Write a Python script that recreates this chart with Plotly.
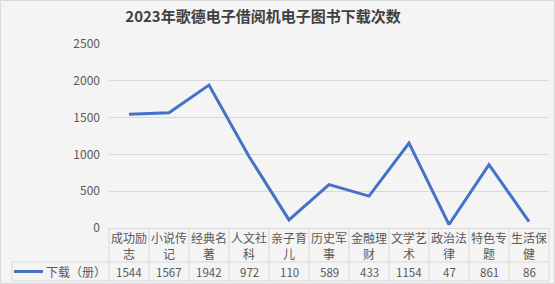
import plotly.graph_objects as go

categories = ["成功励志", "小说传记", "经典名著", "人文社科", "亲子育儿", "历史军事",
              "金融理财", "文学艺术", "政治法律", "特色专题", "生活保健"]
cat_labels = ["成功励<br>志", "小说传<br>记", "经典名<br>著", "人文社<br>科", "亲子育<br>儿", "历史军<br>事",
              "金融理<br>财", "文学艺<br>术", "政治法<br>律", "特色专<br>题", "生活保<br>健"]
values = [1544, 1567, 1942, 972, 110, 589, 433, 1154, 47, 861, 86]
series_name = "下载（册）"
y_ticks = [0, 500, 1000, 1500, 2000, 2500]
title = "2023年歌德电子借阅机电子图书下载次数"

W, H = 555, 284
L, R, T, B = 109, 549, 44, 228
pw, ph = R - L, B - T

def px(x):
    return (x - L) / pw

def py(y):
    return (B - y) / ph

FONT = "Noto Sans CJK SC"
LINE = "#4472C4"
GRID = "#d9d9d9"
TXT = "#595959"

fig = go.Figure()
idx = list(range(len(categories)))
fig.add_trace(go.Scatter(x=idx, y=values, mode="lines",
                         line=dict(color=LINE, width=3), name=series_name,
                         hoverinfo="x+y"))

shapes = []
annotations = []
# outer border
shapes.append(dict(type="rect", xref="paper", yref="paper", x0=px(0.5), x1=px(W - 0.5),
                   y0=py(H - 0.5), y1=py(0.5), line=dict(color=GRID, width=1)))
n = len(categories)
colw = pw / n
row1_bottom = 262
table_bottom = 281
# vertical lines in table
for i in range(n + 1):
    xp = L + i * colw
    shapes.append(dict(type="line", xref="paper", yref="paper", x0=px(xp), x1=px(xp),
                       y0=py(B), y1=py(table_bottom), line=dict(color=GRID, width=1)))
# horizontal lines
shapes.append(dict(type="line", xref="paper", yref="paper", x0=px(12), x1=px(R),
                   y0=py(row1_bottom), y1=py(row1_bottom), line=dict(color=GRID, width=1)))
shapes.append(dict(type="line", xref="paper", yref="paper", x0=px(12), x1=px(R),
                   y0=py(table_bottom), y1=py(table_bottom), line=dict(color=GRID, width=1)))
shapes.append(dict(type="line", xref="paper", yref="paper", x0=px(12), x1=px(12),
                   y0=py(row1_bottom), y1=py(table_bottom), line=dict(color=GRID, width=1)))
# legend line sample
shapes.append(dict(type="line", xref="paper", yref="paper", x0=px(14), x1=px(43),
                   y0=py(271.5), y1=py(271.5), line=dict(color=LINE, width=3)))
annotations.append(dict(text=series_name, xref="paper", yref="paper", x=px(44), y=py(271.5),
                        xanchor="left", yanchor="middle", showarrow=False,
                        font=dict(family=FONT, size=12, color=TXT)))
for i in range(n):
    annotations.append(dict(text=cat_labels[i], x=i, xref="x", yref="paper", y=py(245),
                            xanchor="center", yanchor="middle", showarrow=False,
                            font=dict(family=FONT, size=12, color=TXT)))
    annotations.append(dict(text=str(values[i]), x=i, xref="x", yref="paper", y=py(271.5),
                            xanchor="center", yanchor="middle", showarrow=False,
                            font=dict(family=FONT, size=11.5, color=TXT)))

fig.update_layout(
    width=W, height=H,
    margin=dict(l=L, r=W - R, t=T, b=H - B, pad=0),
    paper_bgcolor="#f4f4f4", plot_bgcolor="#f4f4f4",
    showlegend=False,
    title=dict(text="<b>" + title + "</b>", x=263 / W, xanchor="center", y=1 - 17 / H, yanchor="middle",
               font=dict(family=FONT, size=15, color="#404040")),
    xaxis=dict(range=[-0.5, n - 0.5], showticklabels=False, showgrid=False, zeroline=False,
               showline=True, linecolor=GRID, linewidth=1, fixedrange=True),
    yaxis=dict(range=[0, 2500], tickvals=y_ticks, showgrid=True, gridcolor=GRID, gridwidth=1,
               zeroline=False, showline=False, ticks="", ticklabelstandoff=8,
               tickfont=dict(family=FONT, size=12, color=TXT), fixedrange=True),
    shapes=shapes, annotations=annotations,
)
fig.write_html("out.html")
